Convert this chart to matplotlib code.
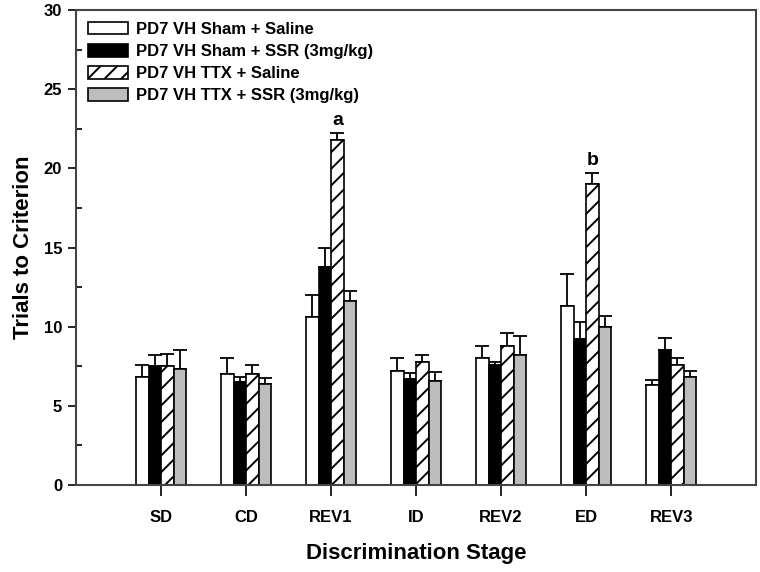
import numpy as np
import matplotlib
matplotlib.use('Agg')
import matplotlib.pyplot as plt
from matplotlib.ticker import MultipleLocator

stages = ['SD', 'CD', 'REV1', 'ID', 'REV2', 'ED', 'REV3']
groups = ['PD7 VH Sham + Saline', 'PD7 VH Sham + SSR (3mg/kg)',
          'PD7 VH TTX + Saline', 'PD7 VH TTX + SSR (3mg/kg)']

sham_saline = [6.8, 7.0, 10.6, 7.2, 8.0, 11.3, 6.3]
sham_saline_err = [0.8, 1.0, 1.4, 0.8, 0.8, 2.0, 0.35]
sham_ssr = [7.5, 6.5, 13.8, 6.7, 7.6, 9.2, 8.5]
sham_ssr_err = [0.7, 0.35, 1.2, 0.35, 0.2, 1.1, 0.8]
ttx_saline = [7.5, 7.0, 21.8, 7.8, 8.8, 19.0, 7.6]
ttx_saline_err = [0.8, 0.6, 0.45, 0.4, 0.8, 0.7, 0.4]
ttx_ssr = [7.3, 6.4, 11.6, 6.6, 8.2, 10.0, 6.8]
ttx_ssr_err = [1.2, 0.35, 0.65, 0.55, 1.2, 0.7, 0.4]

sig_labels = {2: 'a', 5: 'b'}

plt.rcParams['font.family'] = ['Liberation Sans', 'DejaVu Sans']
plt.rcParams['font.weight'] = 'bold'
plt.rcParams['hatch.linewidth'] = 1.4

fig = plt.figure(figsize=(7.6, 5.72), dpi=100)
ax = fig.add_axes([0.1, 0.152, 0.895, 0.8305])

x = np.arange(len(stages))
width = 0.147
series = [(sham_saline, sham_saline_err, 'white', ''),
          (sham_ssr, sham_ssr_err, 'black', ''),
          (ttx_saline, ttx_saline_err, 'white', '//'),
          (ttx_ssr, ttx_ssr_err, '#bdbdbd', '')]

for i, (vals, errs, color, hatch) in enumerate(series):
    pos = x + (i - 1.5) * width
    ax.bar(pos, vals, width, color=color, edgecolor='black', linewidth=1.2,
           hatch=hatch, label=groups[i], zorder=2)
    ax.errorbar(pos, vals, yerr=[np.zeros(len(vals)), errs], fmt='none',
                ecolor='black', elinewidth=1.3, capsize=5, capthick=1.3, zorder=1)

for idx, lab in sig_labels.items():
    top = ttx_saline[idx] + ttx_saline_err[idx]
    ax.text(x[idx] + 0.5 * width, top + 0.25, lab, ha='center', va='bottom',
            fontsize=14, fontweight='bold')

ax.set_xlim(-1, 7)
ax.set_ylim(0, 30)
ax.set_xticks(x)
ax.set_xticklabels(stages, fontsize=12, fontweight='bold')
ax.yaxis.set_major_locator(MultipleLocator(5))
ax.yaxis.set_minor_locator(MultipleLocator(2.5))
ax.tick_params(axis='y', which='major', direction='out', length=6, width=1.2,
               labelsize=12, pad=4)
ax.tick_params(axis='y', which='minor', direction='in', length=4, width=1.2)
ax.tick_params(axis='x', which='major', direction='out', length=8, width=1.2,
               labelsize=12, pad=10)
for lab in ax.get_yticklabels():
    lab.set_fontweight('bold')
for sp in ax.spines.values():
    sp.set_linewidth(1.5)
    sp.set_color('#444444')

ax.set_xlabel('Discrimination Stage', fontsize=16, fontweight='bold', labelpad=13)
ax.set_ylabel('Trials to Criterion', fontsize=16, fontweight='bold', labelpad=7)

ax.legend(loc='upper left', frameon=False, handlelength=2.4,
          handleheight=0.8, handletextpad=0.5, labelspacing=0.42,
          borderaxespad=0.4, borderpad=0.3,
          prop={'weight': 'bold', 'size': 12})

fig.savefig('out.png', dpi=100)
